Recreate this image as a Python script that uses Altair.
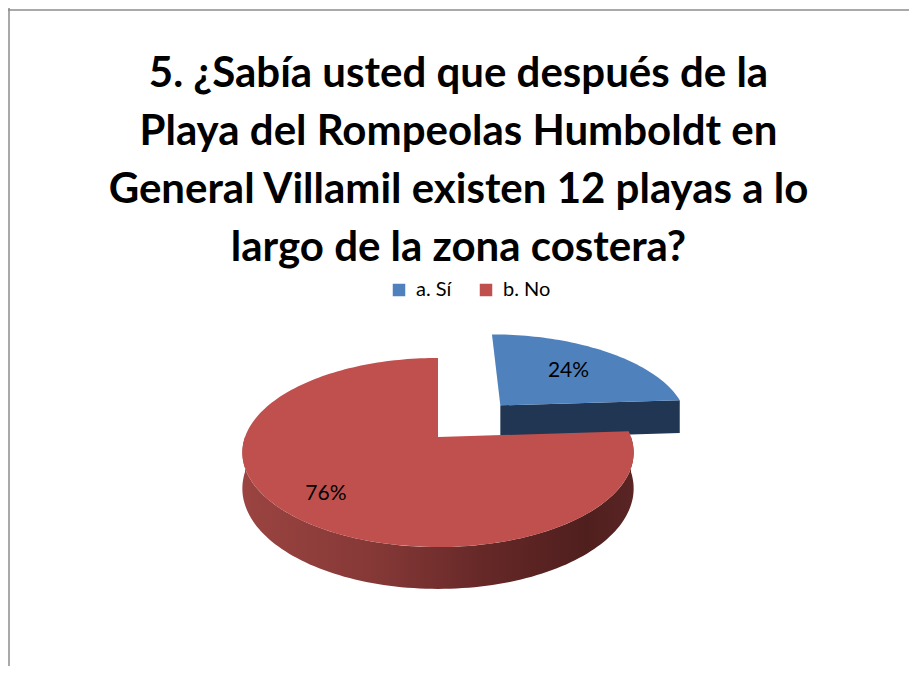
import altair as alt
import pandas as pd
import numpy as np

# ---- data ----
categories = ["a. Sí", "b. No"]
values = [24, 76]
label_texts = ["24%", "76%"]
title_lines = [
    "5. ¿Sabía usted que después de la",
    "Playa del Rompeolas Humboldt en",
    "General Villamil existen 12  playas a lo",
    "largo de la zona costera?",
]

# ---- style ----
top_colors = ["#4F81BD", "#C0504D"]
W, H = 901, 658
CX, CY = 430.0, 429.0        # pie centre (plot pixels)
A, B, K = 193.0, 92.0, 0.164  # ellipse radii and perspective factor
DEPTH = 35.0
EXPLODE = [0.5, 0.0]
LABEL_R = [0.62, 0.77]

wall_fills = [
    "#213652",
    {
        "gradient": "linear", "x1": 0, "x2": 1, "y1": 0, "y2": 0,
        "stops": [
            {"offset": 0.0, "color": "#9B4441"},
            {"offset": 0.35, "color": "#843836"},
            {"offset": 0.62, "color": "#652827"},
            {"offset": 0.88, "color": "#4F1F1E"},
            {"offset": 1.0, "color": "#5A2524"},
        ],
    },
]


def project(u, v):
    s = 1.0 / (1.0 - K * v)
    return CX + A * u * s, CY + B * v * s, s


total = float(sum(values))
rows = []
label_rows = []
start = 0.0
for si, (cat, val) in enumerate(zip(categories, values)):
    t0 = start
    t1 = start + 2 * np.pi * val / total
    start = t1
    tm = (t0 + t1) / 2
    ou, ov = EXPLODE[si] * np.sin(tm), -EXPLODE[si] * np.cos(tm)

    # top face
    n = max(8, int(240 * val / total))
    ts = np.linspace(t0, t1, n)
    pts = [(ou, ov)] + [(ou + np.sin(t), ov - np.cos(t)) for t in ts]
    for i, (u, v) in enumerate(pts):
        x, y, _ = project(u, v)
        rows.append(dict(slice=si, kind="top", pid=f"t{si}", i=i, x=x, y=y, cat=cat))

    # outer wall (front half only)
    a0, a1 = max(t0, np.pi / 2), min(t1, 3 * np.pi / 2)
    if a1 > a0:
        ts = np.linspace(a0, a1, max(4, int(120 * (a1 - a0) / np.pi)))
        top_pts = [project(ou + np.sin(t), ov - np.cos(t)) for t in ts]
        poly = [(x, y) for x, y, s in top_pts] + [(x, y + DEPTH * s) for x, y, s in reversed(top_pts)]
        for i, (x, y) in enumerate(poly):
            rows.append(dict(slice=si, kind="wall", pid=f"w{si}a", i=i, x=x, y=y, cat=cat))

    # cut face at end edge
    if np.sin(t1) > 1e-6:
        c = project(ou, ov)
        r = project(ou + np.sin(t1), ov - np.cos(t1))
        poly = [(c[0], c[1]), (r[0], r[1]), (r[0], r[1] + DEPTH * r[2]), (c[0], c[1] + DEPTH * c[2])]
        for i, (x, y) in enumerate(poly):
            rows.append(dict(slice=si, kind="wall", pid=f"w{si}b", i=i, x=x, y=y, cat=cat))
    # cut face at start edge
    if -np.sin(t0) > 1e-6:
        c = project(ou, ov)
        r = project(ou + np.sin(t0), ov - np.cos(t0))
        poly = [(c[0], c[1]), (r[0], r[1]), (r[0], r[1] + DEPTH * r[2]), (c[0], c[1] + DEPTH * c[2])]
        for i, (x, y) in enumerate(poly):
            rows.append(dict(slice=si, kind="wall", pid=f"w{si}c", i=i, x=x, y=y, cat=cat))

    lx, ly, _ = project(ou + LABEL_R[si] * np.sin(tm), ov - LABEL_R[si] * np.cos(tm))
    label_rows.append(dict(x=lx, y=ly, text=label_texts[si]))

poly_df = pd.DataFrame(rows)
label_df = pd.DataFrame(label_rows)

xs = alt.Scale(domain=[0, W], nice=False, zero=False)
ys = alt.Scale(domain=[0, H], nice=False, zero=False, reverse=True)
X = alt.X("x:Q", scale=xs, axis=None)
Y = alt.Y("y:Q", scale=ys, axis=None)

base = alt.Chart(poly_df)
layers = []
for si in range(len(categories)):
    wall = base.transform_filter(
        f"datum.slice == {si} && datum.kind == 'wall'"
    ).mark_line(fill=wall_fills[si], strokeOpacity=0, interpolate="linear-closed").encode(
        x=X, y=Y, order=alt.Order("i:Q"), detail="pid:N"
    )
    top = base.transform_filter(
        f"datum.slice == {si} && datum.kind == 'top'"
    ).mark_line(strokeOpacity=0, interpolate="linear-closed").encode(
        x=X, y=Y, order=alt.Order("i:Q"), detail="pid:N",
        fill=alt.Fill(
            "cat:N",
            scale=alt.Scale(domain=categories, range=top_colors),
            legend=alt.Legend(
                title=None, orient="none", legendX=381, legendY=272,
                direction="horizontal", symbolType="square", symbolSize=156,
                symbolStrokeWidth=0, labelFont="Lato", labelFontSize=20,
                labelColor="black", labelOffset=7, columnPadding=24, padding=0,
            ),
        ),
    )
    layers += [wall, top]

labels = alt.Chart(label_df).mark_text(
    font="Lato", fontSize=21, color="black", align="center", baseline="middle"
).encode(x=X, y=Y, text="text:N")

frame_df = pd.DataFrame({"k": [0]})
top_line = alt.Chart(frame_df).mark_rule(color="#8C8C8C", strokeWidth=1.5).encode(
    x=alt.value(0), x2=alt.value(W), y=alt.value(2)
)
left_line = alt.Chart(frame_df).mark_rule(color="#8C8C8C", strokeWidth=1.5).encode(
    x=alt.value(1), y=alt.value(0), y2=alt.value(H)
)

chart = alt.layer(*layers, labels, top_line, left_line).properties(
    width=W,
    height=H,
    autosize=alt.AutoSizeParams(type="none"),
    padding=0,
    background="white",
    title=alt.TitleParams(
        text=title_lines, font="Lato", fontSize=42, fontWeight="bold",
        lineHeight=58, anchor="middle", color="black", offset=-263,
    ),
).configure_view(stroke=None)

chart.save("out.html", embed_options={"renderer": "svg", "actions": False})
